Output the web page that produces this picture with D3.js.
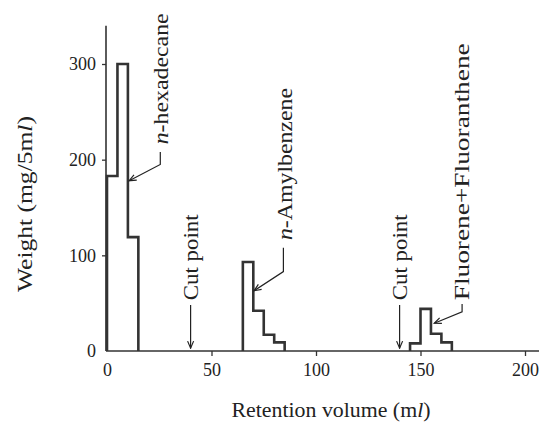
<!DOCTYPE html>
<html>
<head>
<meta charset="utf-8">
<script src="https://cdn.jsdelivr.net/npm/d3@7"></script>
<style>
  body { margin: 0; background: #fff; }
  text { font-family: "Liberation Serif", serif; fill: #222; }
</style>
</head>
<body>
<svg id="chart" width="539" height="427"></svg>
<script>
// histogram bins, 5 ml wide: start volume (ml) and weight (mg/5ml)
const binWidth = 5;
const hexadecaneStart = [0, 5, 10];
const hexadecaneWeight = [183, 300, 119];
const amylStart = [65, 70, 75, 80];
const amylWeight = [93, 42, 17, 9];
const fluoreneStart = [145, 150, 155, 160];
const fluoreneWeight = [8, 44, 18, 9];

const xTicks = [0, 50, 100, 150, 200];
const yTicks = [0, 100, 200, 300];

// cut points (ml)
const cutPoints = [40, 140];

// labelled peaks: text, label base (ml, weight) and leader line points
const peakLabels = [
  { pre: "n", text: "-hexadecane", at: [25.5, 216], len: 131, leader: [[25.5, 208], [25.5, 195], [10.6, 178]] },
  { pre: "n", text: "-Amylbenzene", at: [85.2, 116], len: 152, leader: [[84.4, 108], [84.4, 83], [70.4, 63]] },
  { pre: "", text: "Fluorene+Fluoranthene", at: [169.9, 53], len: 257, leader: [[169.9, 49], [169.9, 41], [156.6, 29]] }
];

const svg = d3.select("#chart");

const x = d3.scaleLinear().domain([0, 200]).range([107, 525]);
const y = d3.scaleLinear().domain([0, 300]).range([351, 64]);

// marker for arrows
svg.append("defs").append("marker")
    .attr("id", "arrow")
    .attr("viewBox", "-8 -4 9 8")
    .attr("refX", 0).attr("refY", 0)
    .attr("markerWidth", 9).attr("markerHeight", 8)
    .attr("markerUnits", "userSpaceOnUse")
    .attr("orient", "auto")
  .append("path")
    .attr("d", "M-7,-3L0,0L-7,3")
    .attr("fill", "none")
    .attr("stroke", "#222")
    .attr("stroke-width", 1.2);

// axes lines
svg.append("line")
    .attr("x1", x(0) - 1).attr("x2", x(208))
    .attr("y1", y(0)).attr("y2", y(0))
    .attr("stroke", "#333").attr("stroke-width", 1.6);
svg.append("line")
    .attr("x1", x(0) - 1).attr("x2", x(0) - 1)
    .attr("y1", y(0)).attr("y2", y(340))
    .attr("stroke", "#333").attr("stroke-width", 1.6);

// x ticks
const xAxis = svg.append("g").attr("transform", `translate(0,${y(0)})`)
    .call(d3.axisBottom(x).tickValues(xTicks).tickSize(5).tickPadding(7).tickFormat(d3.format("d")));
xAxis.select(".domain").remove();
xAxis.selectAll("line").attr("stroke", "#333").attr("stroke-width", 1.3)
    .filter(d => d === 0).remove();
xAxis.selectAll("text").attr("font-family", "Liberation Serif").attr("font-size", 18).attr("fill", "#222");

// y ticks
const yAxis = svg.append("g").attr("transform", `translate(${x(0) - 1},0)`)
    .call(d3.axisLeft(y).tickValues(yTicks).tickSize(4).tickPadding(6).tickFormat(d3.format("d")));
yAxis.select(".domain").remove();
yAxis.selectAll("line").attr("stroke", "#333").attr("stroke-width", 1.3)
    .filter(d => d === 0).remove();
yAxis.selectAll("text").attr("font-family", "Liberation Serif").attr("font-size", 18).attr("fill", "#222");

// axis titles
const xt = svg.append("text")
    .attr("x", 331).attr("y", 417)
    .attr("text-anchor", "middle").attr("font-size", 21)
    .attr("textLength", 199).attr("lengthAdjust", "spacingAndGlyphs");
xt.append("tspan").text("Retention volume (m");
xt.append("tspan").attr("font-style", "italic").text("l");
xt.append("tspan").text(")");

const yt = svg.append("text")
    .attr("transform", "translate(32,204) rotate(-90)")
    .attr("text-anchor", "middle").attr("font-size", 21)
    .attr("textLength", 176).attr("lengthAdjust", "spacingAndGlyphs");
yt.append("tspan").text("Weight (mg/5m");
yt.append("tspan").attr("font-style", "italic").text("l");
yt.append("tspan").text(")");

// histogram outlines
function stepPoints(starts, weights) {
  const pts = [[starts[0], 0]];
  starts.forEach((s, i) => {
    pts.push([s, weights[i]]);
    pts.push([s + binWidth, weights[i]]);
  });
  pts.push([starts[starts.length - 1] + binWidth, 0]);
  return pts;
}
const line = d3.line().x(d => x(d[0])).y(d => y(d[1]));
[[hexadecaneStart, hexadecaneWeight], [amylStart, amylWeight], [fluoreneStart, fluoreneWeight]]
  .forEach(([s, w]) => {
    svg.append("path")
        .attr("d", line(stepPoints(s, w)))
        .attr("fill", "none")
        .attr("stroke", "#333")
        .attr("stroke-width", 2.6)
        .attr("stroke-linejoin", "miter");
  });

// cut points
cutPoints.forEach(c => {
  svg.append("line")
      .attr("x1", x(c)).attr("x2", x(c))
      .attr("y1", y(48)).attr("y2", y(3))
      .attr("stroke", "#222").attr("stroke-width", 1.2)
      .attr("marker-end", "url(#arrow)");
  svg.append("text")
      .attr("transform", `translate(${x(c)},${y(53)}) rotate(-90)`)
      .attr("dy", "0.35em")
      .attr("font-size", 21)
      .attr("textLength", 86).attr("lengthAdjust", "spacingAndGlyphs")
      .text("Cut point");
});

// peak labels
peakLabels.forEach(p => {
  svg.append("path")
      .attr("d", line(p.leader))
      .attr("fill", "none")
      .attr("stroke", "#222").attr("stroke-width", 1.2)
      .attr("marker-end", "url(#arrow)");
  const t = svg.append("text")
      .attr("transform", `translate(${x(p.at[0])},${y(p.at[1])}) rotate(-90)`)
      .attr("dy", "0.35em")
      .attr("font-size", 21)
      .attr("textLength", p.len).attr("lengthAdjust", "spacingAndGlyphs");
  if (p.pre) t.append("tspan").attr("font-style", "italic").text(p.pre);
  t.append("tspan").text(p.text);
});
</script>
</body>
</html>
